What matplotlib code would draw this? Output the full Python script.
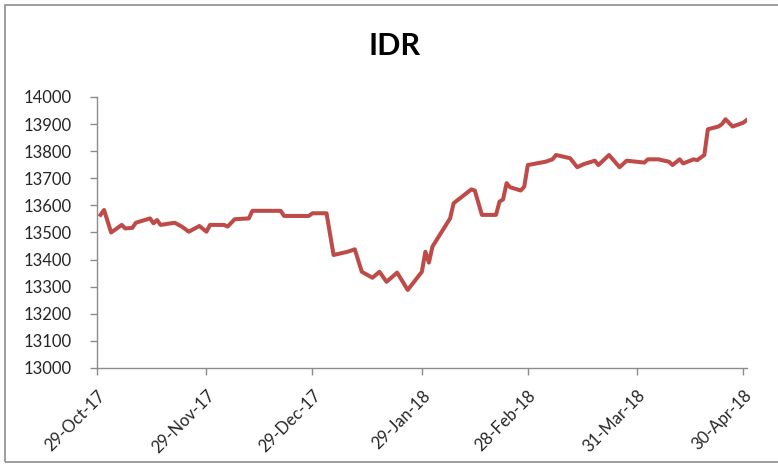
import numpy as np
import pandas as pd
import matplotlib
matplotlib.use("Agg")
import matplotlib.pyplot as plt
import matplotlib.dates as mdates
from matplotlib.patches import Rectangle

plt.rcParams['font.family'] = ['Lato', 'DejaVu Sans']

# values
dates = [
    "2017-10-30", "2017-10-31", "2017-11-02", "2017-11-05", "2017-11-06",
    "2017-11-08", "2017-11-09", "2017-11-13", "2017-11-14", "2017-11-15",
    "2017-11-16", "2017-11-20", "2017-11-22", "2017-11-24", "2017-11-27",
    "2017-11-29", "2017-11-30", "2017-12-04", "2017-12-05", "2017-12-07",
    "2017-12-11", "2017-12-12", "2017-12-20", "2017-12-21", "2017-12-28",
    "2017-12-29", "2018-01-02", "2018-01-04", "2018-01-08", "2018-01-10",
    "2018-01-12", "2018-01-15", "2018-01-17", "2018-01-19", "2018-01-22",
    "2018-01-25", "2018-01-29", "2018-01-30", "2018-01-31", "2018-02-01",
    "2018-02-06", "2018-02-07", "2018-02-12", "2018-02-13", "2018-02-15",
    "2018-02-19", "2018-02-20", "2018-02-21", "2018-02-22", "2018-02-23",
    "2018-02-26", "2018-02-27", "2018-02-28", "2018-03-05", "2018-03-07",
    "2018-03-08", "2018-03-12", "2018-03-14", "2018-03-16", "2018-03-19",
    "2018-03-20", "2018-03-21", "2018-03-23", "2018-03-26", "2018-03-28",
    "2018-04-02", "2018-04-03", "2018-04-06", "2018-04-09", "2018-04-10",
    "2018-04-12", "2018-04-13", "2018-04-16", "2018-04-17", "2018-04-19",
    "2018-04-20", "2018-04-23", "2018-04-24", "2018-04-25", "2018-04-27",
    "2018-04-30", "2018-05-01",
]
idr = [
    13565, 13583, 13500, 13528, 13515,
    13517, 13536, 13552, 13534, 13546,
    13528, 13536, 13522, 13503, 13524,
    13503, 13528, 13528, 13522, 13549,
    13552, 13580, 13580, 13561, 13561,
    13571, 13571, 13417, 13429, 13438,
    13355, 13333, 13355, 13318, 13352,
    13288, 13355, 13429, 13389, 13448,
    13552, 13608, 13659, 13655, 13565,
    13565, 13614, 13622, 13682, 13667,
    13655, 13669, 13749, 13761, 13770,
    13786, 13774, 13741, 13753, 13765,
    13749, 13761, 13786, 13741, 13765,
    13758, 13770, 13770, 13761, 13749,
    13770, 13755, 13770, 13767, 13786,
    13881, 13891, 13900, 13918, 13891,
    13905, 13915,
]
tick_dates = ["2017-10-29", "2017-11-29", "2017-12-29", "2018-01-29",
              "2018-02-28", "2018-03-31", "2018-04-30"]
y_ticks = list(range(13000, 14001, 100))

x = pd.to_datetime(dates)
ticks = pd.to_datetime(tick_dates)

fig = plt.figure(figsize=(7.78, 4.71), dpi=100)
fig.patches.append(Rectangle((5 / 778, 9 / 471), 1.0, 1 - 14 / 471,
                             transform=fig.transFigure, fill=False,
                             edgecolor="#8c8c8c", linewidth=1.2))
ax = fig.add_axes([97 / 778, 1 - 368 / 471, (746.7 - 97) / 778, (368 - 97) / 471])

ax.plot(x, idr, color="#BE4B48", linewidth=2.9, solid_joinstyle="round")

ax.set_xlim(pd.Timestamp("2017-10-29"), pd.Timestamp("2018-05-01"))
ax.set_ylim(13000, 14000)
ax.set_yticks(y_ticks)
ax.set_xticks(ticks)
ax.xaxis.set_major_formatter(mdates.DateFormatter("%d-%b-%y"))

ax.tick_params(axis="both", colors="#8c8c8c", labelcolor="#262626",
               length=5, width=1)
ax.tick_params(axis="y", labelsize=12, pad=13)
ax.tick_params(axis="x", labelsize=12, pad=9)

for lab in ax.get_xticklabels():
    lab.set_rotation(45)
    lab.set_ha("right")
    lab.set_rotation_mode("anchor")

for s in ["top", "right"]:
    ax.spines[s].set_visible(False)
for s in ["left", "bottom"]:
    ax.spines[s].set_color("#8c8c8c")
    ax.spines[s].set_linewidth(1)

fig.text(395 / 778, 1 - 46 / 471, "IDR", ha="center", va="center",
         fontsize=22, fontweight="bold", color="#000000")

fig.savefig("out.png", dpi=100)
